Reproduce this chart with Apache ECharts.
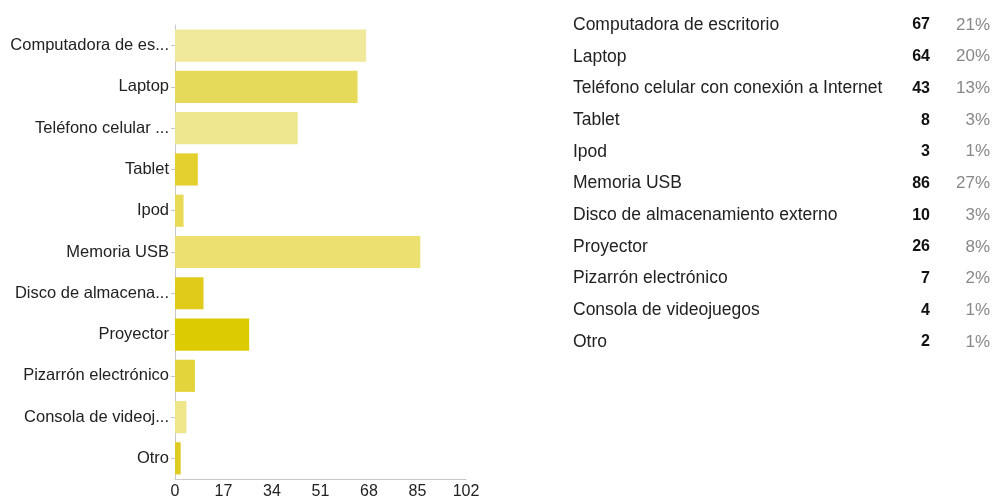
<!DOCTYPE html>
<html>
<head>
<meta charset="utf-8">
<script src="https://cdn.jsdelivr.net/npm/echarts@6/dist/echarts.min.js"></script>
<style>
  html, body { margin: 0; padding: 0; background: #fff; }
  #chart { width: 992px; height: 500px; }
</style>
</head>
<body>
<div id="chart"></div>
<script>
  // respuestas
  var categories = [
    'Computadora de escritorio',
    'Laptop',
    'Teléfono celular con conexión a Internet',
    'Tablet',
    'Ipod',
    'Memoria USB',
    'Disco de almacenamiento externo',
    'Proyector',
    'Pizarrón electrónico',
    'Consola de videojuegos',
    'Otro'
  ];
  var counts = [67, 64, 43, 8, 3, 86, 10, 26, 7, 4, 2];
  var percents = ['21%', '20%', '13%', '3%', '1%', '27%', '3%', '8%', '2%', '1%', '1%'];
  var barColors = ['#f0e89a', '#e6da5a', '#eee68e', '#e3d02e', '#e8da55', '#ebe070',
                   '#e0cb1a', '#dccb00', '#e4d43c', '#efe68a', '#e0cc20'];
  var xTicks = [0, 17, 34, 51, 68, 85, 102];

  var chart = echarts.init(document.getElementById('chart'));

  // tabla de la derecha
  var table = [];
  categories.forEach(function (name, i) {
    var y = 25 + i * 31.7;
    table.push({
      type: 'text', x: 573, y: y,
      style: { text: name, font: '17.5px "Liberation Sans", Arial', fill: '#222', verticalAlign: 'middle' }
    });
    table.push({
      type: 'text', x: 930, y: y,
      style: { text: String(counts[i]), font: 'bold 16px "Liberation Sans", Arial', fill: '#111',
               align: 'right', verticalAlign: 'middle' }
    });
    table.push({
      type: 'text', x: 990, y: y,
      style: { text: percents[i], font: '17px "Liberation Sans", Arial', fill: '#888',
               align: 'right', verticalAlign: 'middle' }
    });
  });

  var option = {
    animation: false,
    grid: { left: 175, top: 25, right: 526, bottom: 20, containLabel: false },
    xAxis: {
      type: 'value',
      min: xTicks[0],
      max: xTicks[xTicks.length - 1],
      interval: 17,
      axisLine: { show: true, lineStyle: { color: '#c8c8c8' } },
      axisTick: { show: false },
      splitLine: { show: false },
      axisLabel: { color: '#222', fontSize: 16, fontFamily: '"Liberation Sans", Arial', margin: 5 }
    },
    yAxis: {
      type: 'category',
      inverse: true,
      data: categories,
      axisLine: { show: true, lineStyle: { color: '#c8c8c8' } },
      axisTick: { show: true, alignWithLabel: true, length: 4, lineStyle: { color: '#c8c8c8' } },
      axisLabel: {
        color: '#222', fontSize: 16.5, fontFamily: '"Liberation Sans", Arial', margin: 6,
        formatter: function (v) {
          return v.length > 20 ? v.slice(0, 17) + '...' : v;
        }
      }
    },
    series: [{
      type: 'bar',
      barCategoryGap: '22%',
      data: counts.map(function (v, i) {
        return { value: v, itemStyle: { color: barColors[i] } };
      })
    }],
    graphic: table
  };

  chart.setOption(option);
</script>
</body>
</html>
